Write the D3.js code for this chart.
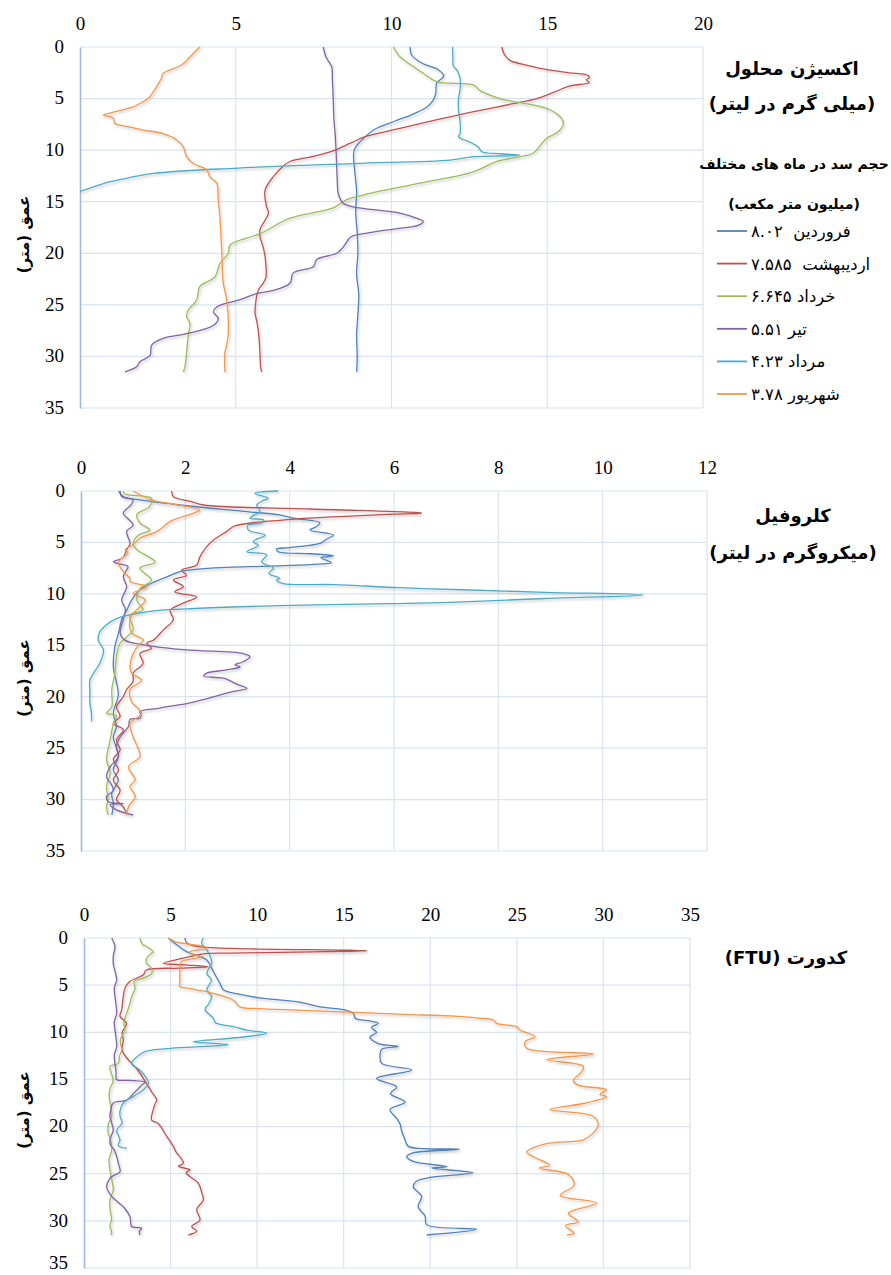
<!DOCTYPE html>
<html>
<head>
<meta charset="utf-8">
<script src="https://cdn.jsdelivr.net/npm/d3@7"></script>
<style>
  body { margin: 0; background: #fff; }
  svg { display: block; }
  .fa { font-family: "DejaVu Sans", sans-serif; fill: #000; white-space: pre; }
</style>
</head>
<body>
<svg id="chart" width="891" height="1275"></svg>
<script>
// ---------- categories ----------
const months  = ["فروردین", "اردیبهشت", "خرداد", "تیر", "مرداد", "شهریور"];
const volumes = ["۸.۰۲", "۷.۵۸۵", "۶.۶۴۵", "۵.۵۱", "۴.۲۳", "۳.۷۸"];
const colors  = ["#4F81BD", "#C0504D", "#9BBB59", "#8064A2", "#4BACC6", "#F79646"];

// ---------- tick labels ----------
const depthTicks = [0, 5, 10, 15, 20, 25, 30, 35];
const doTicks    = [0, 5, 10, 15, 20];
const chlTicks   = [0, 2, 4, 6, 8, 10, 12];
const turbTicks  = [0, 5, 10, 15, 20, 25, 30, 35];

// ---------- dissolved oxygen profiles: [depth (m), mg/L] ----------
const doFarvardin = [[0,10.6],[0.8,10.65],[1.6,11.0],[2.2,11.5],[2.8,11.68],[3.5,11.45],[4.5,11.42],[5.2,11.33],[5.8,11.15],[6.5,10.7],[7.2,10.1],[8.0,9.45],[9.0,9.05],[10.0,8.8],[12,8.82],[14,8.88],[16,8.85],[18,8.9],[20,8.92],[22,8.88],[24,8.95],[26,8.92],[28,8.88],[30,8.9],[31.5,8.88]];
const doOrdibehesht = [[0,13.54],[0.7,13.62],[1.3,13.8],[1.8,14.4],[2.2,15.0],[2.5,15.7],[2.75,16.3],[3.0,16.35],[3.2,16.25],[3.45,16.35],[3.8,15.7],[4.4,15.2],[5.0,14.66],[5.5,13.9],[6.3,12.6],[7.1,11.4],[7.9,10.27],[8.7,9.15],[9.3,8.7],[10.1,8.1],[10.6,7.5],[11.1,6.74],[11.6,6.5],[12.6,6.2],[13.9,5.94],[15.5,5.99],[16.1,6.05],[17.7,5.78],[18.4,5.78],[19.4,5.88],[20.3,5.94],[22.3,5.97],[22.9,5.88],[23.6,5.72],[25.8,5.62],[26.5,5.67],[27.4,5.72],[28.7,5.76],[31.0,5.8],[31.5,5.83]];
const doKhordad = [[0,10.06],[0.95,10.27],[1.8,10.65],[2.55,11.02],[3.36,11.45],[3.68,12.63],[4.2,12.84],[5.0,13.48],[5.95,14.98],[6.76,15.41],[7.4,15.52],[8.2,15.36],[8.85,14.98],[9.8,14.71],[10.3,14.55],[11.1,13.38],[12.1,12.63],[13.2,10.91],[14.35,9.09],[14.8,8.56],[15.6,8.13],[16.6,6.74],[18.1,5.78],[19.2,4.82],[20.0,4.76],[21.0,4.49],[22.3,4.33],[23.2,3.85],[24.5,3.75],[25.5,3.48],[26.1,3.42],[26.8,3.53],[27.8,3.48],[29.7,3.42],[31.0,3.37],[31.5,3.32]];
const doTir = [[0,7.81],[1.0,7.9],[1.9,8.08],[3,8.1],[5.1,8.13],[7,8.15],[8.4,8.19],[10,8.22],[11.6,8.24],[13,8.26],[14.2,8.29],[15.15,8.45],[15.5,8.77],[16.1,10.27],[16.6,10.8],[16.9,11.02],[17.3,10.85],[17.6,10.2],[18.0,9.3],[18.4,8.7],[19.4,8.45],[20.0,8.24],[20.6,7.6],[21.3,7.49],[21.9,6.85],[22.9,6.74],[23.6,6.21],[23.9,5.67],[24.5,5.14],[25.2,4.39],[25.7,4.28],[26.3,4.44],[27.0,4.28],[27.8,3.42],[28.25,2.67],[28.9,2.3],[29.9,2.25],[30.5,1.93],[31.0,1.82],[31.5,1.44]];
const doMordad = [[0,11.96],[1.0,11.97],[1.9,11.99],[2.2,12.09],[3.0,12.2],[4.2,12.2],[5.0,12.15],[6.1,12.15],[7.2,12.2],[8.4,12.2],[8.7,12.15],[9.2,12.5],[9.7,12.79],[10.15,12.9],[10.35,13.5],[10.5,14.13],[10.65,12.6],[10.96,11.88],[11.3,8.77],[11.76,4.92],[12.25,2.35],[12.6,1.7],[13.06,0.96],[13.5,0.5],[14.0,0]];
const doShahrivar = [[0,3.85],[0.9,3.55],[1.75,3.26],[2.55,2.67],[3.0,2.62],[3.85,2.46],[5.0,2.19],[5.3,2.03],[5.8,1.71],[6.3,1.1],[6.6,0.75],[6.9,1.07],[7.4,1.12],[7.7,1.5],[8.05,2.03],[8.4,2.67],[9.0,3.1],[9.7,3.32],[10.6,3.42],[11.3,3.64],[11.9,4.07],[12.6,4.17],[13.2,4.39],[14.8,4.44],[16.45,4.49],[19.7,4.55],[22.9,4.6],[24.5,4.71],[27.8,4.76],[29.0,4.7],[29.7,4.65],[31.5,4.65]];

// ---------- chlorophyll profiles: [depth (m), µg/L] ----------
const chlFarvardin = [[0,0.72],[0.55,0.81],[0.87,1.13],[1.36,1.9],[1.7,2.54],[2.0,3.18],[2.33,3.81],[2.65,4.07],[3.08,4.58],[3.5,4.5],[3.79,4.39],[4.28,4.84],[4.7,4.7],[5.1,4.58],[5.5,4.0],[5.65,3.75],[5.9,3.78],[6.1,4.4],[6.3,4.84],[6.5,4.6],[6.96,4.8],[7.15,4.4],[7.3,3.6],[7.5,2.5],[7.84,1.9],[8.3,1.67],[8.97,1.35],[9.6,1.13],[10.6,0.97],[11.56,0.88],[12.5,0.78],[13.8,0.72],[15.1,0.65],[17.1,0.62],[19.8,0.715],[21.6,0.62],[22.9,0.68],[23.9,0.62],[25.8,0.715],[27.1,0.62],[28.1,0.715],[29.4,0.59],[30.4,0.62],[31.5,0.59]];
const chlOrdibehesht = [[0,1.74],[0.55,1.77],[1.0,2.1],[1.36,2.35],[1.75,4.4],[2.08,6.4],[2.15,6.53],[2.25,6.0],[2.8,3.9],[3.4,2.95],[3.95,2.79],[4.76,2.54],[5.4,2.41],[6.4,2.28],[7.2,2.22],[7.7,1.93],[8.2,2.02],[8.65,1.77],[9.3,1.96],[9.8,1.8],[10.3,2.22],[10.9,1.96],[11.6,1.71],[12.5,1.77],[13.5,1.58],[14.5,1.39],[14.8,1.26],[15.3,1.35],[15.8,1.13],[16.75,1.19],[17.7,1.0],[18.5,1.0],[19.3,0.875],[20.0,0.81],[21.0,0.68],[21.9,0.75],[22.6,0.62],[23.2,0.81],[24.2,0.68],[25.2,0.75],[26.1,0.62],[27.1,0.72],[28.1,0.62],[29.1,0.75],[30.0,0.68],[30.7,0.81],[31.3,0.875]];
const chlKhordad = [[0,0.81],[0.3,0.84],[0.7,1.35],[1.5,1.32],[2.3,1.07],[3.1,1.13],[3.8,1.32],[4.3,1.1],[5.1,1.0],[5.7,1.07],[6.9,1.42],[7.5,1.13],[8.65,1.35],[9.5,1.13],[10.6,1.07],[11.56,1.19],[12.05,0.94],[13.5,1.0],[14.2,0.875],[14.8,0.75],[16.1,0.68],[17.7,0.65],[19.3,0.59],[21.0,0.59],[21.6,0.49],[21.8,0.68],[22.6,0.62],[24.2,0.56],[26.1,0.49],[27.4,0.56],[28.7,0.49],[30.0,0.52],[30.7,0.49],[31.5,0.52]];
const chlTir = [[0,0.75],[0.55,0.78],[0.87,1.0],[1.4,0.95],[2.17,0.81],[2.7,0.9],[3.3,1.0],[3.95,0.875],[5.1,0.94],[5.7,0.875],[6.5,0.8],[6.87,0.62],[7.1,0.75],[7.35,0.9],[8.3,0.81],[9.3,0.875],[10.6,0.78],[11.5,0.85],[12.5,0.81],[13.8,0.75],[14.5,0.84],[15.0,1.26],[15.45,2.03],[15.8,3.11],[16.1,3.24],[16.6,3.11],[16.9,2.95],[17.1,3.05],[17.4,2.79],[17.7,2.41],[18.0,2.35],[18.2,2.73],[18.8,3.0],[19.2,3.18],[19.5,2.9],[20.2,2.4],[20.6,2.09],[21.1,1.51],[21.45,1.13],[21.8,1.15],[22.1,1.13],[22.2,0.94],[22.9,0.91],[23.9,0.75],[24.9,0.68],[25.8,0.72],[26.8,0.56],[27.8,0.49],[28.5,0.58],[29.1,0.62],[29.7,0.49],[30.2,0.52],[30.4,0.81],[30.5,0.56],[31.0,0.68],[31.5,1.0]];
const chlMordad = [[0,3.78],[0.23,3.33],[0.7,3.59],[1.0,3.46],[1.36,3.37],[2.0,3.43],[2.3,3.33],[2.66,3.24],[2.8,3.5],[3.14,3.46],[3.3,3.2],[3.8,3.21],[4.3,3.53],[4.9,3.3],[5.3,3.4],[5.9,3.18],[6.2,3.56],[6.9,3.46],[7.5,3.69],[8.0,3.6],[8.5,3.81],[8.65,3.75],[9.0,3.88],[9.1,4.84],[9.4,6.1],[9.6,7.3],[9.85,8.9],[10.1,10.78],[10.45,8.9],[10.82,7.07],[10.95,5.9],[11.15,3.8],[11.4,2.28],[11.7,1.32],[12.4,0.68],[13.0,0.49],[13.7,0.36],[14.5,0.33],[15.45,0.43],[16.75,0.36],[17.7,0.24],[18.4,0.17],[19.4,0.17],[20.6,0.17],[21.6,0.2],[22.4,0.2]];
const chlShahrivar = [[0,1.0],[0.87,1.35],[1.3,1.8],[1.85,2.28],[2.17,2.15],[2.8,1.77],[3.1,1.67],[3.95,1.45],[4.6,1.13],[5.2,1.0],[5.7,0.85],[6.0,0.9],[6.7,0.75],[7.0,0.72],[7.84,0.81],[8.5,0.94],[8.8,0.94],[9.3,1.26],[9.95,1.0],[10.6,1.23],[11.9,1.0],[12.5,0.94],[13.8,0.97],[14.5,1.2],[15.0,1.1],[15.8,1.0],[17.1,0.94],[17.7,0.97],[18.4,1.16],[19.3,0.94],[20.5,0.97],[21.6,1.16],[22.6,0.94],[23.9,1.0],[25.8,1.13],[26.8,0.91],[28.1,1.04],[28.7,0.94],[29.7,1.04],[30.7,0.91],[31.5,0.875]];

// ---------- turbidity profiles: [depth (m), FTU] ----------
const turbFarvardin = [[0,4.87],[0.5,5.2],[1.45,5.93],[2.33,7.09],[3.2,7.37],[4.0,7.6],[4.8,7.85],[5.5,8.05],[5.9,8.8],[6.4,10.36],[6.75,12.28],[7.3,13.63],[7.6,14.98],[7.99,15.56],[8.5,15.66],[8.8,16.5],[9.05,17.0],[9.5,16.6],[10.0,16.9],[10.5,16.52],[11.2,17.0],[11.5,18.15],[11.8,17.2],[12.5,17.1],[13.3,17.19],[14.0,18.93],[14.9,16.9],[15.8,18.06],[16.5,17.7],[17.4,18.54],[18.2,17.67],[19.0,18.0],[19.7,18.25],[20.5,18.35],[21.4,18.54],[22.1,18.73],[22.4,21.68],[22.8,19.0],[23.2,18.64],[23.7,19.02],[24.25,20.95],[24.4,20.08],[24.9,22.45],[25.4,20.0],[25.8,19.2],[26.4,19.02],[27.4,19.5],[28.5,19.3],[29.5,19.7],[30.4,19.79],[30.9,22.68],[31.5,19.79]];
const turbOrdibehesht = [[0,5.83],[0.5,5.93],[0.9,6.5],[1.1,8.5],[1.3,15.5],[1.36,16.33],[1.45,14],[1.6,8.5],[1.7,6.8],[2.2,5.6],[2.69,4.58],[2.85,5.8],[3.04,7.2],[3.2,5.6],[3.4,3.6],[3.9,3.43],[4.6,2.66],[5.3,2.37],[6.2,2.27],[7.6,2.18],[8.3,2.08],[9.05,2.46],[10.0,2.2],[10.8,2.27],[11.9,2.2],[12.9,2.55],[14.0,3.1],[15.4,3.6],[16.3,3.9],[17.2,4.2],[17.6,4.1],[18.2,4.0],[19.3,3.9],[19.7,4.3],[21.1,4.8],[22.1,5.16],[22.8,5.35],[23.2,5.54],[23.9,5.74],[24.2,5.45],[24.6,6.12],[24.9,5.9],[26.0,6.6],[27.0,6.8],[27.8,6.89],[28.8,6.51],[29.9,6.7],[30.6,6.22],[31.1,6.51],[31.5,6.03]];
const turbKhordad = [[0,3.23],[0.6,3.35],[1.0,3.7],[1.45,4.0],[1.6,3.91],[2.2,3.6],[2.7,3.62],[3.2,3.9],[3.75,3.91],[4.2,3.5],[4.6,2.9],[5.34,2.95],[6.2,2.75],[6.9,2.66],[8.0,2.46],[9.05,2.3],[9.76,2.37],[10.8,2.1],[11.9,2.18],[12.5,2.05],[13.3,1.98],[13.6,1.5],[14.2,1.55],[15.1,1.69],[16.0,1.5],[16.8,1.45],[17.8,1.55],[18.9,1.6],[19.8,1.4],[20.7,1.4],[21.5,1.55],[22.5,1.6],[23.5,1.45],[24.6,1.5],[25.6,1.6],[26.7,1.69],[27.8,1.5],[28.8,1.5],[29.8,1.6],[30.5,1.5],[31.3,1.6],[31.5,1.55]];
const turbTir = [[0,1.6],[0.92,1.79],[1.8,1.7],[2.7,1.69],[3.6,1.8],[4.45,1.89],[5.3,1.75],[6.2,1.79],[7.1,1.85],[8.0,1.89],[8.9,1.75],[9.76,1.79],[10.6,1.85],[11.5,1.89],[12.4,1.75],[13.3,1.79],[14.2,1.85],[15.0,1.89],[15.1,2.66],[15.3,3.52],[15.5,3.4],[15.8,3.23],[16.5,2.85],[17.2,2.46],[17.5,1.69],[18.2,1.55],[18.9,1.5],[19.6,1.6],[20.4,1.69],[21.1,1.55],[21.8,1.5],[22.5,1.75],[23.2,1.89],[24.0,2.0],[24.8,2.08],[25.2,1.7],[25.5,1.5],[26.4,1.31],[27.4,1.6],[28.0,1.95],[28.5,2.27],[29.6,2.66],[30.3,2.7],[30.6,2.75],[30.8,3.33],[31.1,3.2],[31.5,3.23]];
const turbMordad = [[0,6.89],[0.57,6.8],[1.27,7.09],[2.0,7.3],[2.7,7.37],[3.75,7.09],[4.45,7.37],[5.5,7.09],[6.2,7.37],[7.0,7.2],[7.6,6.99],[8.5,7.47],[9.0,7.6],[9.4,8.63],[9.76,9.4],[10.1,10.55],[10.5,9.2],[11.0,6.31],[11.1,6.8],[11.3,8.34],[11.45,7.5],[11.7,5.0],[12.0,3.6],[12.4,3.2],[13.3,2.75],[14.0,3.23],[14.9,3.62],[15.4,3.72],[16.1,3.43],[16.8,2.85],[17.5,2.27],[18.2,2.1],[18.9,2.08],[19.6,2.2],[20.4,1.89],[21.4,2.08],[22.0,1.98],[22.3,2.46]];
const turbShahrivar = [[0,4.87],[0.4,5.3],[0.74,6.41],[0.92,6.99],[1.1,7.09],[1.45,6.12],[1.63,6.12],[1.98,6.8],[2.2,6.3],[2.5,5.64],[3.4,5.54],[4.5,5.54],[5.16,5.54],[5.3,5.93],[5.87,7.47],[6.6,8.63],[7.3,9.01],[7.5,10.17],[7.8,14.4],[8.1,18.5],[8.27,21.14],[8.5,22.8],[8.7,23.64],[9.06,23.83],[9.4,24.99],[9.76,25.18],[10.46,26.05],[11.0,25.47],[11.7,25.57],[12.3,29.42],[12.9,26.72],[13.6,28.84],[14.2,28.74],[15.1,28.26],[15.6,28.55],[16.1,30.18],[16.6,29.8],[16.8,30.18],[17.5,29.0],[18.2,26.9],[18.9,29.4],[19.8,29.7],[20.7,29.4],[21.4,28.84],[21.8,26.7],[22.7,25.57],[23.2,25.95],[24.1,26.9],[24.4,26.3],[25.1,28.0],[26.2,28.3],[27.3,27.5],[28.1,29.6],[29.2,27.98],[30.1,28.55],[30.5,27.8],[31.3,28.3],[31.5,27.9]];

// ---------- panel titles ----------
const doTitle   = ["اکسیژن محلول", "(میلی گرم در لیتر)"];
const chlTitle  = ["کلروفیل", "(میکروگرم در لیتر)"];
const turbTitle = ["کدورت (FTU)"];
const legendTitle = ["حجم سد در ماه های مختلف", "(میلیون متر مکعب)"];
const depthLabel = "عمق (متر)";

// ---------- drawing ----------
const svg = d3.select("#chart");
const numFont = '"Liberation Serif", "Times New Roman", serif';
const numSize = "19px";
const pageHeight = 1275;

const defs = svg.append("defs");
defs.append("filter")
  .attr("id", "lineShadow")
  .attr("filterUnits", "userSpaceOnUse")
  .attr("x", 0).attr("y", 0).attr("width", 891).attr("height", pageHeight)
  .append("feDropShadow")
  .attr("dx", 1.2).attr("dy", 1.8).attr("stdDeviation", 1)
  .attr("flood-color", "#000").attr("flood-opacity", 0.22);

const panels = [
  { series: [doFarvardin, doOrdibehesht, doKhordad, doTir, doMordad, doShahrivar],
    ticks: doTicks, box: { left: 80, right: 703, top: 47, bottom: 408 } },
  { series: [chlFarvardin, chlOrdibehesht, chlKhordad, chlTir, chlMordad, chlShahrivar],
    ticks: chlTicks, box: { left: 81, right: 707, top: 491, bottom: 851 } },
  { series: [turbFarvardin, turbOrdibehesht, turbKhordad, turbTir, turbMordad, turbShahrivar],
    ticks: turbTicks, box: { left: 84, right: 690, top: 938, bottom: 1268 } }
];

panels.forEach(p => {
  const b = p.box;
  const x = d3.scaleLinear().domain([0, d3.max(p.ticks)]).range([b.left, b.right]);
  const y = d3.scaleLinear().domain([0, d3.max(depthTicks)]).range([b.top, b.bottom]);
  const g = svg.append("g");

  // gridlines
  g.append("g").selectAll("line").data(p.ticks.slice(1)).join("line")
    .attr("x1", d => x(d)).attr("x2", d => x(d))
    .attr("y1", b.top).attr("y2", b.bottom)
    .attr("stroke", "#D9E3F2").attr("stroke-width", 1.2);
  g.append("g").selectAll("line").data(depthTicks).join("line")
    .attr("x1", b.left).attr("x2", b.right)
    .attr("y1", d => y(d)).attr("y2", d => y(d))
    .attr("stroke", "#D9E3F2").attr("stroke-width", 1.2);

  // value axis (top) labels
  const xa = g.append("g").attr("transform", `translate(0,${b.top})`)
    .call(d3.axisTop(x).tickValues(p.ticks).tickSize(0).tickPadding(17).tickFormat(d3.format("d")));
  xa.attr("font-family", null).attr("font-size", null);
  xa.select(".domain").remove();
  xa.selectAll("text").style("font-family", numFont).style("font-size", numSize).attr("fill", "#000");

  // depth axis (left); the deepest label is nudged up when it would touch the page edge
  const ya = g.append("g").attr("transform", `translate(${b.left},0)`)
    .call(d3.axisLeft(y).tickValues(depthTicks).tickSize(0).tickPadding(16).tickFormat(d3.format("d")));
  ya.attr("font-family", null).attr("font-size", null);
  ya.select(".domain").attr("stroke", "#9DB9DE").attr("stroke-width", 1.6);
  ya.selectAll("text").style("font-family", numFont).style("font-size", numSize)
    .attr("fill", "#000")
    .attr("dy", d => (y(d) + 12 > pageHeight ? "0.05em" : "0.28em"));

  // profiles
  const line = d3.line()
    .x(d => x(d[1])).y(d => y(d[0]))
    .curve(d3.curveCatmullRom.alpha(0.5));
  g.append("g").attr("filter", "url(#lineShadow)")
    .selectAll("path").data(p.series).join("path")
    .attr("d", line)
    .attr("fill", "none")
    .attr("stroke", (d, i) => colors[i])
    .attr("stroke-width", 1.3)
    .attr("stroke-linejoin", "round");

  // depth axis title
  svg.append("text").attr("class", "fa")
    .attr("direction", "rtl")
    .attr("transform", `translate(29,${(b.top + b.bottom) / 2 + 7}) rotate(-90)`)
    .attr("text-anchor", "middle")
    .attr("font-size", 15).attr("font-weight", "bold")
    .text(depthLabel);
});

// panel titles
function titleBlock(lines, cx, ys, size) {
  lines.forEach((t, i) => {
    svg.append("text").attr("class", "fa")
      .attr("direction", "rtl")
      .attr("x", cx).attr("y", ys[i])
      .attr("text-anchor", "middle")
      .attr("font-size", size).attr("font-weight", "bold")
      .text(t);
  });
}
titleBlock(doTitle, 792, [75, 110], 18);
titleBlock(legendTitle, 794, [169, 209], 14);
titleBlock(chlTitle, 793, [522, 559], 18);
titleBlock(turbTitle, 786, [964], 18);

// legend
const legend = svg.append("g");
months.forEach((m, i) => {
  const ly = 231 + i * 32.6;
  legend.append("line")
    .attr("x1", 717).attr("x2", 747).attr("y1", ly).attr("y2", ly)
    .attr("stroke", colors[i]).attr("stroke-width", 1.8);
  const t = legend.append("text").attr("class", "fa")
    .attr("direction", "rtl")
    .attr("y", ly + 6)
    .attr("text-anchor", "middle")
    .attr("font-size", 16.5)
    .text(m + (i < 2 ? "  " : " ") + volumes[i]);
  const w = t.node().getComputedTextLength();
  t.attr("x", 751 + w / 2);
});
</script>
</body>
</html>
